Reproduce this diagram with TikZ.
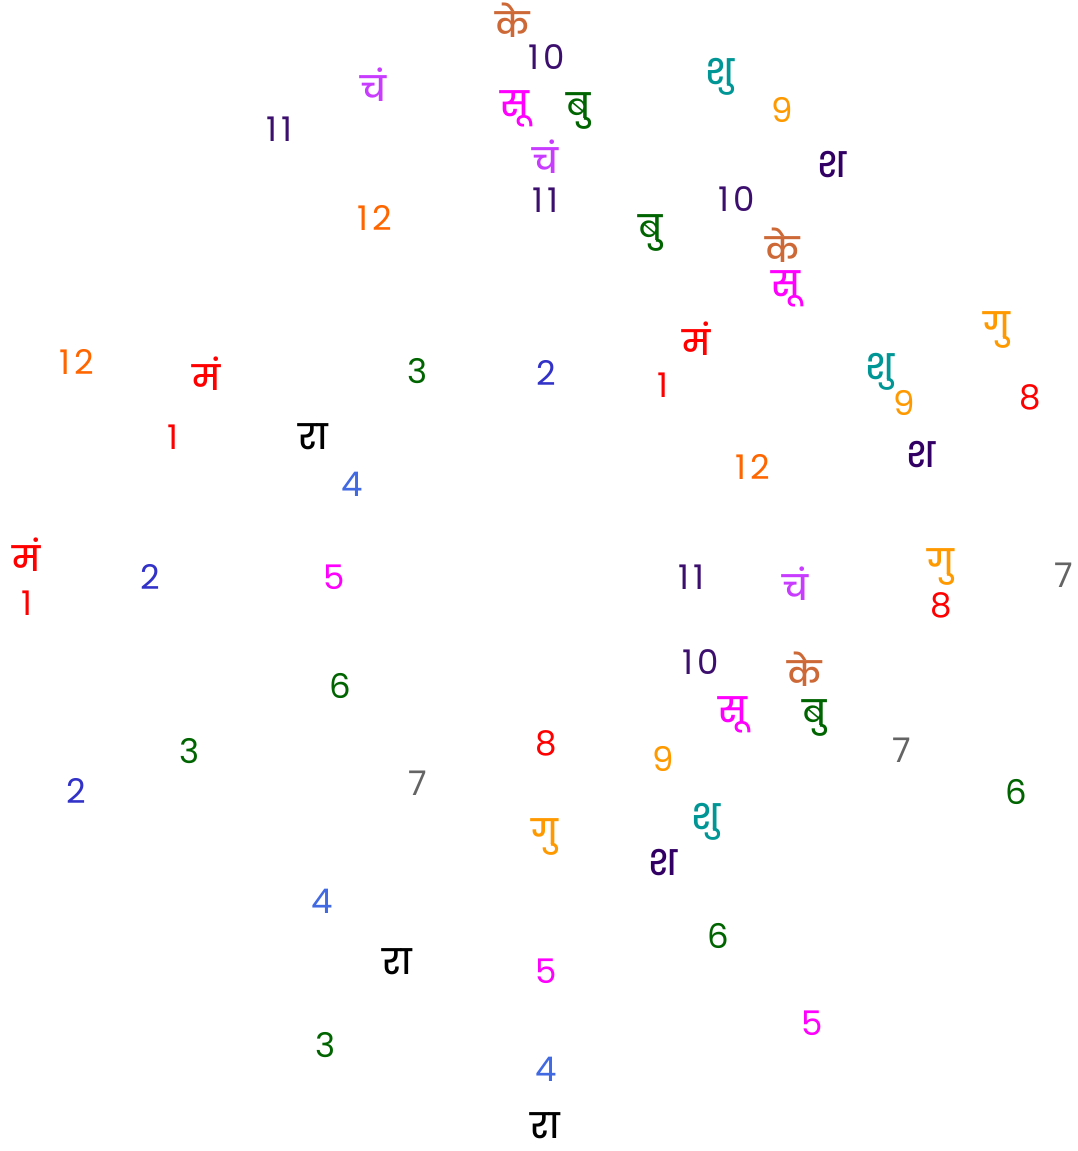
\documentclass[tikz,border=0pt]{standalone}
\usepackage{fontspec}
\setmainfont{Poppins}
\newfontfamily\numfont{Poppins}[LetterSpace=12]
\newfontfamily\deva[Script=Devanagari]{Poppins}[UprightFont=* Medium]
\usetikzlibrary{positioning}
\definecolor{ketu}{RGB}{205,105,55}
\definecolor{indigo}{RGB}{60,15,110}
\definecolor{surya}{RGB}{255,0,255}
\definecolor{budh}{RGB}{0,100,0}
\definecolor{chandra}{RGB}{200,60,255}
\definecolor{tangerine}{RGB}{255,102,0}
\definecolor{mangal}{RGB}{255,0,0}
\definecolor{navyblue}{RGB}{50,50,200}
\definecolor{royal}{RGB}{65,105,225}
\definecolor{amber}{RGB}{255,153,0}
\definecolor{shukra}{RGB}{0,150,150}
\definecolor{shani}{RGB}{50,0,100}
\definecolor{slate}{RGB}{100,100,100}

\begin{document}
\begin{tikzpicture}[x=1pt,y=-1pt,
    num/.style={inner sep=0pt,font=\numfont\fontsize{34}{34}\selectfont},
    grah/.style={inner sep=0pt,yshift=-3pt,font=\deva\fontsize{35}{35}\selectfont}]
        \useasboundingbox (0,0) rectangle (1078,1151);
        % top chart
        \node[grah,text=ketu] (keA) at (513,17) {के};
        \node[num,text=indigo] (tenA) at (547,57) {10};
        \node[grah,text=surya] (suA) at (515,106) {सू};
        \node[grah,text=budh] (buA) at (579,108) {बु};
        \node[grah,text=chandra] (chA) at (545,154) {चं};
        \node[num,text=indigo] (elevenA) at (545,200) {11};
        \node[grah,text=chandra] (chB) at (373,82) {चं};
        \node[num,text=indigo] (elevenB) at (279,129) {11};
        \node[num,text=tangerine] (twelveB) at (375,218) {12};
        \node[grah,text=shukra] (shuA) at (720,74) {शु};
        \node[num,text=amber] (nineA) at (782,110) {9};
        \node[grah,text=shani] (shA) at (832,162) {श};
        \node[num,text=indigo] (tenB) at (737,199) {10};
        \node[grah,text=budh] (buB) at (651,230) {बु};
        \node[grah,text=ketu] (keB) at (783,242) {के};
        \node[grah,text=surya] (suB) at (786,286) {सू};
        \node[grah,text=mangal] (maA) at (697,336) {मं};
        \node[num,text=mangal] (oneA) at (663,385) {1};
        \node[grah,text=amber] (guA) at (997,327) {गु};
        \node[grah,text=shukra] (shuB) at (880,369) {शु};
        \node[num,text=amber] (nineB) at (904,403) {9};
        \node[num,text=mangal] (eightA) at (1030,397) {8};
        \node[grah,text=shani] (shB) at (921,452) {श};
        \node[num,text=tangerine] (twelveA) at (753,467) {12};
        % left chart
        \node[num,text=tangerine] (twelveC) at (77,362) {12};
        \node[grah,text=mangal] (maB) at (207,371) {मं};
        \node[num,text=budh] (threeA) at (418,371) {3};
        \node[num,text=navyblue] (twoA) at (546,373) {2};
        \node[num,text=mangal] (oneB) at (173,437) {1};
        \node[grah,text=black] (raA) at (313,434) {रा};
        \node[num,text=royal] (fourA) at (352,484) {4};
        \node[grah,text=mangal] (maC) at (27,552) {मं};
        \node[num,text=mangal] (oneC) at (27,603) {1};
        \node[num,text=navyblue] (twoB) at (150,577) {2};
        \node[num,text=surya] (fiveA) at (334,577) {5};
        \node[num,text=budh] (sixA) at (340,686) {6};
        \node[num,text=budh] (threeB) at (190,751) {3};
        \node[num,text=navyblue] (twoC) at (76,791) {2};
        \node[num,text=slate] (sevenA) at (418,783) {7};
        % right chart
        \node[num,text=indigo] (elevenC) at (691,577) {11};
        \node[grah,text=chandra] (chC) at (795,581) {चं};
        \node[grah,text=amber] (guB) at (941,564) {गु};
        \node[num,text=mangal] (eightB) at (941,605) {8};
        \node[num,text=slate] (sevenB) at (1064,575) {7};
        \node[num,text=indigo] (tenC) at (701,662) {10};
        \node[grah,text=ketu] (keC) at (805,666) {के};
        \node[grah,text=surya] (suC) at (733,712) {सू};
        \node[grah,text=budh] (buC) at (815,715) {बु};
        \node[num,text=slate] (sevenC) at (902,750) {7};
        \node[num,text=budh] (sixB) at (1016,792) {6};
        \node[num,text=amber] (nineC) at (663,759) {9};
        \node[grah,text=shukra] (shuC) at (706,819) {शु};
        \node[grah,text=shani] (shC) at (663,860) {श};
        % bottom chart
        \node[num,text=mangal] (eightC) at (546,743) {8};
        \node[grah,text=amber] (guC) at (545,834) {गु};
        \node[num,text=royal] (fourB) at (322,901) {4};
        \node[grah,text=black] (raB) at (397,959) {रा};
        \node[num,text=surya] (fiveB) at (546,971) {5};
        \node[num,text=budh] (sixC) at (718,936) {6};
        \node[num,text=surya] (fiveC) at (812,1023) {5};
        \node[num,text=budh] (threeC) at (326,1045) {3};
        \node[num,text=royal] (fourC) at (546,1069) {4};
        \node[grah,text=black] (raC) at (545,1123) {रा};
      \end{tikzpicture}
\end{document}
